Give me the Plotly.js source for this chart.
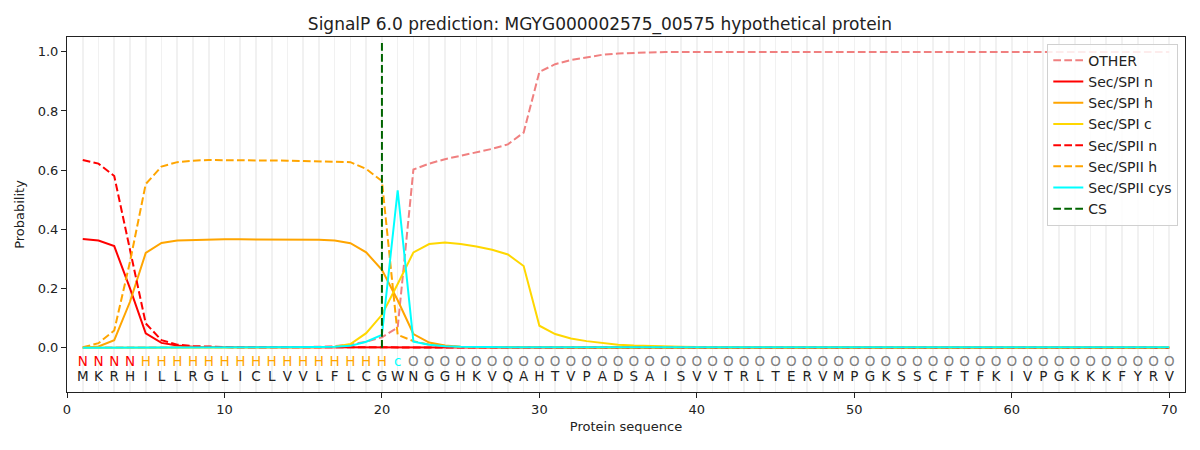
<!DOCTYPE html>
<html>
<head>
<meta charset="utf-8">
<script src="https://cdn.plot.ly/plotly-3.0.1.min.js"></script>
<style>
  body { margin: 0; background: #fff; }
  #chart { width: 1200px; height: 450px; }
</style>
</head>
<body>
<div id="chart"></div>
<script>
// residues and per-residue labels (N = n-region, H = h-region, c = c-region, O = other)
var residues = 'MKRHILLRGLICLVVLFLCGWNGGHKVQAHTVPADSAISVVTRLTERVMPGKSSCFTFKIVPGKKKFYRV'.split('')
var regionLabels = 'NNNNHHHHHHHHHHHHHHHHcOOOOOOOOOOOOOOOOOOOOOOOOOOOOOOOOOOOOOOOOOOOOOOOOO'.split('')

var other = [0,0,0,0,0,0,0,0,0,0, 0,0,0,0,0.002,0.003,0.005,0.01,0.02,0.035,
  0.068,0.602,0.622,0.637,0.649,0.66,0.672,0.687,0.727,0.932,
  0.958,0.972,0.982,0.99,0.994,0.997,0.998,0.999,0.999,0.999,
  0.999,0.999,0.999,0.999,0.999,0.999,0.999,0.999,0.999,0.999,
  0.999,0.999,0.999,0.999,0.999,0.999,0.999,0.999,0.999,0.999,
  0.999,0.999,0.999,0.999,0.999,0.999,0.999,0.999,0.999,0.999]
var spiN = [0.367,0.362,0.343,0.2,0.048,0.016,0.007,0.003,0.002,0.001,
  0.001,0.001,0.001,0.001,0.001,0.001,0.001,0.001,0.001,0.002,
  0.002,0.002,0.001,0.001,0,0,0,0,0,0, 0,0,0,0,0,0,0,0,0,0,
  0,0,0,0,0,0,0,0,0,0, 0,0,0,0,0,0,0,0,0,0, 0,0,0,0,0,0,0,0,0,0]
var spiH = [0,0.004,0.025,0.155,0.32,0.354,0.362,0.364,0.365,0.366,
  0.366,0.366,0.366,0.366,0.366,0.365,0.362,0.353,0.322,0.263,
  0.16,0.046,0.017,0.007,0.003,0.002,0.001,0.001,0.001,0.001,
  0,0,0,0,0,0,0,0,0,0, 0,0,0,0,0,0,0,0,0,0, 0,0,0,0,0,0,0,0,0,0, 0,0,0,0,0,0,0,0,0,0]
var spiC = [0,0,0,0,0,0,0,0,0,0, 0,0,0,0,0,0.001,0.003,0.012,0.049,0.111,
  0.215,0.322,0.35,0.355,0.35,0.342,0.331,0.315,0.276,0.074,
  0.046,0.031,0.022,0.015,0.01,0.007,0.005,0.004,0.003,0.002,
  0.002,0.002,0.002,0.002,0.002,0.001,0.001,0.001,0.001,0.001,
  0.001,0.001,0.001,0.001,0.001,0.001,0.001,0.001,0.001,0.001,
  0.001,0.001,0.001,0.001,0.001,0.001,0.001,0.001,0.001,0.001]
var spiiN = [0.634,0.622,0.58,0.33,0.082,0.025,0.01,0.005,0.003,0.002,
  0.001,0.001,0.001,0.001,0.001,0.001,0.001,0.001,0.001,0.001,
  0,0,0,0,0,0,0,0,0,0, 0,0,0,0,0,0,0,0,0,0,
  0,0,0,0,0,0,0,0,0,0, 0,0,0,0,0,0,0,0,0,0, 0,0,0,0,0,0,0,0,0,0]
var spiiH = [0.001,0.015,0.058,0.29,0.553,0.612,0.627,0.632,0.634,0.634,
  0.634,0.634,0.633,0.632,0.631,0.63,0.629,0.627,0.604,0.563,
  0.043,0.022,0.01,0.005,0.002,0.001,0.001,0,0,0,
  0,0,0,0,0,0,0,0,0,0, 0,0,0,0,0,0,0,0,0,0, 0,0,0,0,0,0,0,0,0,0, 0,0,0,0,0,0,0,0,0,0]
var spiiCys = [0,0,0,0,0,0,0,0,0,0, 0,0,0,0,0.001,0.002,0.003,0.006,0.02,0.043,
  0.532,0.02,0.01,0.005,0.003,0.002,0.001,0.001,0.001,0.001,
  0.001,0.001,0.001,0.001,0.001,0.001,0.001,0.001,0.001,0.001,
  0.001,0.001,0.001,0.001,0.001,0.001,0.001,0.001,0.001,0.001,
  0.001,0.001,0.001,0.001,0.001,0.001,0.001,0.001,0.001,0.001,
  0.001,0.001,0.001,0.001,0.001,0.001,0.001,0.001,0.001,0.001]
var csPos = 20
var csTop = 1.04

var pos = residues.map((r, i) => i + 1)
var labelColors = {N: 'red', H: 'orange', c: 'cyan', O: 'gray'}
var dash = '7.7px,3.3px'

function line(name, y, color, dashed){
    return {x: pos, y: y, name: name, type: 'scatter', mode: 'lines',
        line: {color: color, width: 2, dash: dashed ? dash : 'solid'}}
}

var traces = [
    line('OTHER', other, 'lightcoral', true),
    line('Sec/SPI n', spiN, 'red', false),
    line('Sec/SPI h', spiH, 'orange', false),
    line('Sec/SPI c', spiC, 'gold', false),
    line('Sec/SPII n', spiiN, 'red', true),
    line('Sec/SPII h', spiiH, 'orange', true),
    line('Sec/SPII cys', spiiCys, 'cyan', false),
    {x: [csPos, csPos], y: [0, csTop], name: 'CS', type: 'scatter', mode: 'lines',
        line: {color: 'darkgreen', width: 2, dash: dash}},
    {x: pos, y: pos.map(() => -0.05), text: regionLabels, type: 'scatter', mode: 'text',
        showlegend: false, hoverinfo: 'skip',
        textfont: {family: 'DejaVu Sans', size: 13.5, color: regionLabels.map(l => labelColors[l])}},
    {x: pos, y: pos.map(() => -0.1), text: residues, type: 'scatter', mode: 'text',
        showlegend: false, hoverinfo: 'skip',
        textfont: {family: 'DejaVu Sans', size: 13.5, color: '#222'}}
]

var layout = {
    width: 1200, height: 450,
    margin: {l: 67, r: 15, t: 37, b: 58},
    paper_bgcolor: 'white', plot_bgcolor: 'white',
    font: {family: 'DejaVu Sans', size: 13, color: '#222'},
    title: {text: 'SignalP 6.0 prediction: MGYG000002575_00575 hypothetical protein',
        font: {size: 17, color: '#222'}, x: 0.5, xanchor: 'center', yref: 'container', y: 0.947, yanchor: 'middle'},
    xaxis: {
        range: [0, 71], tickvals: [0, 10, 20, 30, 40, 50, 60, 70],
        showgrid: true, gridcolor: '#f1f1f1', gridwidth: 1.6,
        minor: {dtick: 1, tick0: 0, showgrid: true, gridcolor: '#f1f1f1', gridwidth: 1.6},
        ticks: 'outside', ticklen: 5, tickcolor: '#222',
        showline: true, linecolor: '#222', linewidth: 1, mirror: true, zeroline: false,
        title: {text: 'Protein sequence', standoff: 6, font: {size: 13}}
    },
    yaxis: {
        range: [-0.15, 1.05], tickvals: [0, 0.2, 0.4, 0.6, 0.8, 1.0], tickformat: '.1f',
        showgrid: false, zeroline: false,
        ticks: 'outside', ticklen: 5, tickcolor: '#222',
        showline: true, linecolor: '#222', linewidth: 1, mirror: true,
        title: {text: 'Probability', standoff: 10, font: {size: 13}}
    },
    legend: {x: 0.994, y: 0.981, xanchor: 'right', yanchor: 'top',
        bgcolor: 'rgba(255,255,255,0.85)', bordercolor: '#d0d0d0', borderwidth: 1,
        font: {size: 14}, tracegroupgap: 0},
    showlegend: true
}

Plotly.newPlot('chart', traces, layout, {displayModeBar: false, staticPlot: true})
</script>
</body>
</html>
